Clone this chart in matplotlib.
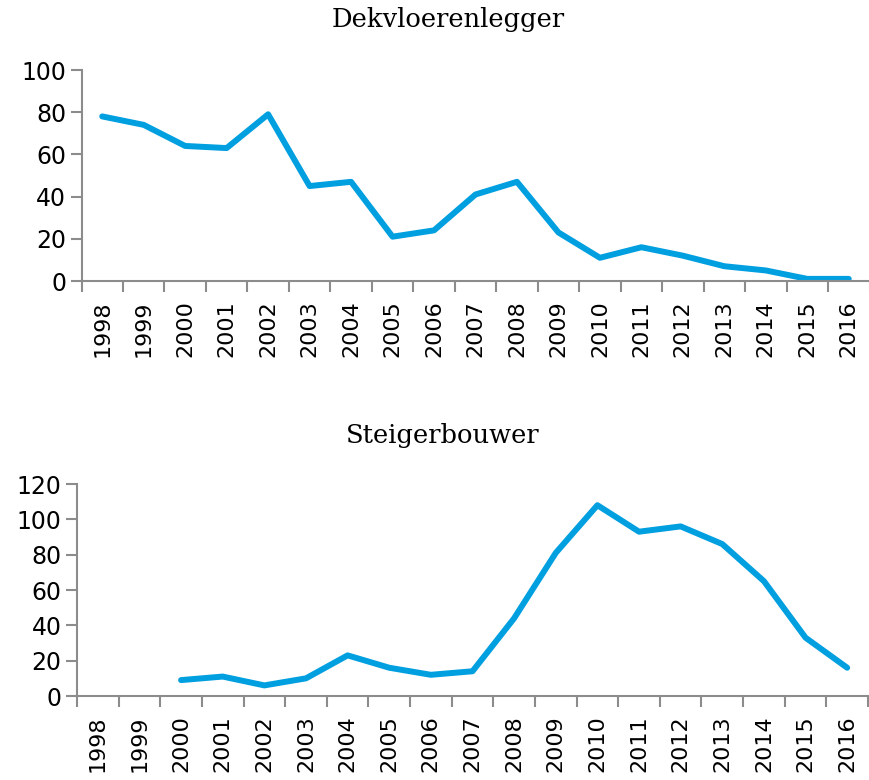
import numpy as np
import matplotlib
matplotlib.use("Agg")
import matplotlib.pyplot as plt
from matplotlib import font_manager
from matplotlib.ticker import FixedLocator

years = [str(y) for y in range(1998, 2017)]
dekvloer = [78, 74, 64, 63, 79, 45, 47, 21, 24, 41, 47, 23, 11, 16, 12, 7, 5, 1, 1]
steiger = [np.nan, np.nan, 9, 11, 6, 10, 23, 16, 12, 14, 44, 81, 108, 93, 96, 86, 65, 33, 16]

LINE = "#009fe0"
AXIS = "#8c8c8c"

# narrow font for the rotated year labels if present, else DejaVu Sans
try:
    font_manager.findfont("Liberation Sans Narrow", fallback_to_default=False)
    YEAR_FONT, YEAR_SIZE = "Liberation Sans Narrow", 20.5
except ValueError:
    YEAR_FONT, YEAR_SIZE = "DejaVu Sans", 16

fig = plt.figure(figsize=(8.69, 7.8), dpi=100)


def style_axes(ax, values, ymax, title, title_x, title_y):
    x = np.arange(len(years))
    ax.plot(x, values, color=LINE, lw=4.3, solid_capstyle="round", solid_joinstyle="round")
    ax.set_xlim(-0.5, len(years) - 0.5)
    ax.set_ylim(0, ymax)
    ax.set_yticks(np.arange(0, ymax + 1, 20))
    ax.set_xticks(x)
    ax.set_xticklabels(years, rotation=90, fontsize=YEAR_SIZE, family=YEAR_FONT)
    ax.xaxis.set_minor_locator(FixedLocator(np.arange(-0.5, len(years), 1)))
    ax.tick_params(axis="x", which="major", length=0, pad=14)
    ax.tick_params(axis="x", which="minor", length=8, width=1.5, color=AXIS)
    ax.tick_params(axis="y", length=8, width=1.5, color=AXIS, pad=3)
    for lab in ax.get_yticklabels():
        lab.set_family("DejaVu Sans")
        lab.set_fontsize(17)
    for side in ("top", "right"):
        ax.spines[side].set_visible(False)
    for side in ("left", "bottom"):
        ax.spines[side].set_color(AXIS)
        ax.spines[side].set_linewidth(1.5)
    ax.patch.set_visible(False)
    fig.text(title_x, title_y, title, ha="center", va="center",
             fontsize=18.5, family="DejaVu Serif")


ax1 = fig.add_axes([81.5 / 869, 1 - 281 / 780, 788 / 869, 211 / 780])
style_axes(ax1, dekvloer, 100, "Dekvloerenlegger", 448 / 869, 1 - 20 / 780)

ax2 = fig.add_axes([77 / 869, 1 - 696 / 780, 791 / 869, 212 / 780])
style_axes(ax2, steiger, 120, "Steigerbouwer", 443 / 869, 1 - 436 / 780)

fig.savefig("out.png", dpi=100)
